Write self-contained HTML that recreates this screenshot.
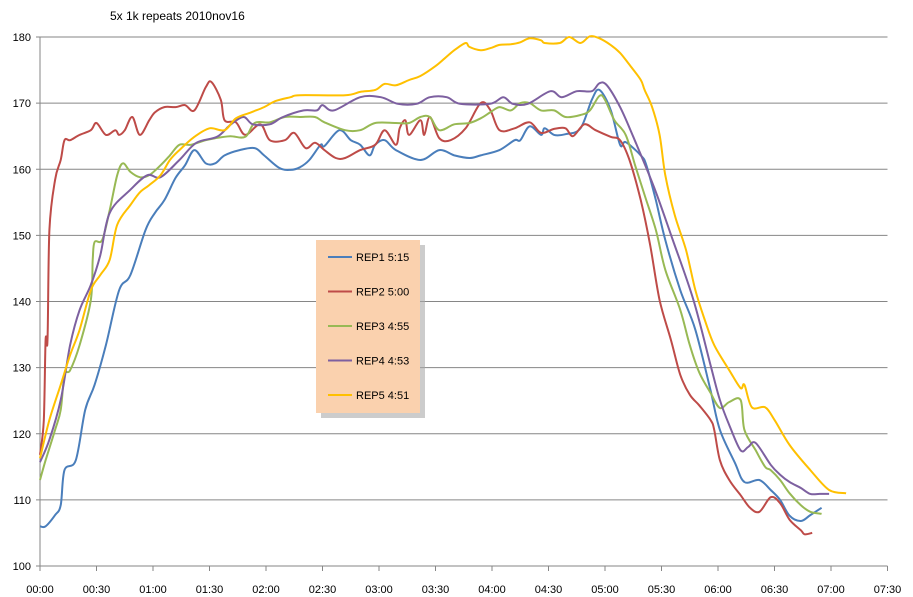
<!DOCTYPE html>
<html><head><meta charset="utf-8"><style>
body{margin:0;background:#fff;}
svg{display:block;font-family:"Liberation Sans",sans-serif;}
</style></head><body>
<svg id="chart" width="913" height="597">
<text x="110" y="20" font-size="12" fill="#000">5x 1k repeats 2010nov16</text>
<g id="grid"></g><g id="axes"></g><g id="series"></g>
<g>
<rect x="321" y="245" width="104" height="173" fill="#aaa" opacity="0.6"/>
<rect x="316" y="240" width="104" height="173" fill="#FAD1AE"/>
<g id="legend"></g>
</g>
</svg>
<script>
const yTicks=[100,110,120,130,140,150,160,170,180];
const xTickLabels=["00:00","00:30","01:00","01:30","02:00","02:30","03:00","03:30","04:00","04:30","05:00","05:30","06:00","06:30","07:00","07:30"];
const seriesNames=["REP1 5:15","REP2 5:00","REP3 4:55","REP4 4:53","REP5 4:51"];
const seriesColors=["#4A7EBB","#BE4B48","#98B954","#7D60A0","#FFC000"];
const rep1T=[0,3,8,11,13,19,24,29,35,42,48,56,61,66,72,77,82,88,93,98,106,114,119,127,133,138,143,149,151,159,165,170,175,178,183,189,202,212,220,228,234,244,252,255,260,266,268,273,279,287,293,297,303,308,311,319,322,327,332,340,348,356,361,369,374,382,388,393,398,404,409,415];
const rep1V=[106,106,107.7,109.2,114.5,116,123.6,127.4,133.4,141.7,144,150.8,153.4,155.3,158.7,160.6,162.9,160.9,160.9,162.1,162.9,163.2,162.1,160.2,159.9,160.3,161.4,163.7,163.5,165.9,164.4,163.7,162.1,163.7,164.4,162.9,161.4,162.9,162.1,161.7,162.1,162.9,164.4,164.4,166.5,165.2,166.2,165.2,165.3,166.2,170.5,172,169,163.7,164.1,162.1,160.6,155.3,149.3,141.7,135.7,126.6,120.6,115.6,112.7,113,111.5,110,107.6,106.8,107.7,108.8];
const rep2T=[0,2,3,4,5,8,11,13,16,21,27,30,35,40,42,45,49,53,58,61,66,72,77,82,88,91,96,98,104,109,117,122,130,135,141,146,151,157,162,170,178,183,189,191,194,196,202,204,207,212,218,226,234,239,244,252,260,266,273,279,283,289,295,303,308,313,319,324,329,335,340,345,350,356,358,361,366,372,377,382,388,393,398,404,406,410];
const rep2V=[116.8,122,134.2,134.2,150.8,158.4,161.4,164.4,164.4,165.2,165.9,167,165.2,165.9,165.2,165.9,167.9,165.2,167.4,168.6,169.4,169.4,169.7,168.9,172.4,173.2,170.5,167.4,167.1,165.2,166.8,164.4,164.4,165.5,163.2,164,162.9,161.7,161.7,162.9,163.7,165.9,163.7,166.2,167.4,165.2,167.4,165.2,167.9,164.7,164.4,166.2,170,169,165.9,166.2,167.1,165.5,166.1,166.2,165,166.8,165.9,164.9,164.4,161.4,155.3,148.5,140.2,134.2,128.9,125.9,124.3,122.1,120.6,116,113,110.7,108.8,108.2,110.4,109.5,107,105.4,104.8,105];
const rep3T=[0,3,8,11,13,16,21,27,28,29,33,37,41,44,48,53,58,64,69,74,80,88,93,101,109,114,122,130,138,146,151,162,170,178,189,196,202,207,212,220,228,234,239,244,250,255,260,266,273,279,287,292,297,300,305,311,316,321,327,332,340,345,350,356,361,366,372,374,380,385,388,393,398,404,409,415];
const rep3V=[113,116,120.6,123.6,128.9,129.6,133.4,140.2,146.3,149,149.3,153.8,159.1,160.9,159.6,158.8,159.1,160.6,162.1,163.7,163.7,164.4,164.7,165,164.9,167,167.1,167.9,167.9,167.9,167.1,165.9,165.9,167,167,167,167.9,167.9,165.9,166.8,167,167.7,168.6,169.4,168.9,170,170,168.9,168.9,167.9,168.2,168.9,171.1,170.5,167.4,165.2,160.6,156.1,150.8,144.8,138.7,133.4,129.3,126.2,123.9,124.8,125.1,120.6,117.5,115,114.5,113,111,109.2,108.2,107.9];
const rep4T=[0,5,11,16,21,27,32,37,48,57,64,74,83,94,101,108,113,122,129,140,147,150,156,170,181,190,200,207,216,223,239,246,251,259,271,277,285,293,297,301,308,315,326,336,347,356,361,366,372,376,380,388,393,398,404,409,414,419];
const rep4V=[115.7,119.1,125.1,133.4,138.7,142.5,147,153.4,156.9,159.1,158.8,161.4,164,164.9,166.7,167.9,166.8,166.8,167.9,168.9,168.9,169.7,168.9,170.9,170.9,169.9,169.9,170.9,170.9,169.9,169.9,170.9,169.9,169.9,171.8,170.9,171.8,171.8,173,172.7,169.4,164.9,157.3,149.3,140.2,130.4,125.1,121.3,117.5,118,118.6,115.3,113.8,112.7,111.8,110.9,110.9,110.9];
const rep5T=[0,5,11,16,21,27,32,37,41,48,53,58,64,69,74,82,90,98,104,112,119,125,133,138,162,170,178,183,189,196,202,210,215,220,226,228,234,239,244,250,255,260,266,268,276,281,287,292,297,303,308,313,319,321,325,329,332,337,343,348,353,358,366,372,374,378,385,390,398,409,419,428];
const rep5V=[116.3,122.1,127.4,131.9,135.7,141.7,144,146.3,151.6,154.6,156.5,157.6,159.1,161.4,162.9,164.9,166.2,165.9,167.7,168.6,169.4,170.3,170.9,171.2,171.2,171.7,172,172.9,172.7,173.5,174.1,175.6,176.8,178,179.1,178.5,178,178.3,178.8,178.9,179.2,179.8,179.5,179.1,179.1,180,179.1,180.1,179.8,178.8,177.6,175.8,173.5,172,169.4,165.2,159.1,153.1,147.8,141.7,137.2,133.4,129.6,126.9,127.4,124,124,122.1,118.3,114.5,111.5,111];
const allT=[rep1T,rep2T,rep3T,rep4T,rep5T];
const allV=[rep1V,rep2V,rep3V,rep4V,rep5V];

const X0=40,X1=887.5,Y0=566,Y1=37;
const xMax=450; // 07:30 in seconds
const sx=t=>X0+t/xMax*(X1-X0);
const sy=v=>Y0-(v-100)/80*(Y0-Y1);
const NS="http://www.w3.org/2000/svg";
function mk(tag,attrs,parent){const e=document.createElementNS(NS,tag);for(const k in attrs)e.setAttribute(k,attrs[k]);parent.appendChild(e);return e;}
const grid=document.getElementById('grid'),axes=document.getElementById('axes'),ser=document.getElementById('series'),leg=document.getElementById('legend');
yTicks.forEach(v=>{
  const l=mk('line',{x1:X0,x2:X1,y1:sy(v),y2:sy(v),stroke:'#868686','stroke-width':1},grid);
  
  
  const t=mk('text',{x:31,y:sy(v)+4,'font-size':11,'text-anchor':'end',fill:'#000'},axes);
  t.textContent=v;
  
  
  const tk=mk('line',{x1:X0-4,x2:X0,y1:sy(v),y2:sy(v),stroke:'#868686'},axes);
  
  
});
const ya=mk('line',{x1:X0,x2:X0,y1:Y1,y2:Y0+4,stroke:'#868686'},axes);


xTickLabels.forEach((lab,i)=>{
  const x=sx(i*30);
  const tk=mk('line',{x1:x,x2:x,y1:Y0,y2:Y0+5,stroke:'#868686'},axes);
  
  
  const t=mk('text',{x:x,y:593,'font-size':11,'text-anchor':'middle',fill:'#000'},axes);
  t.textContent=lab;
  
  
});
function smooth(pts){
  let d='M'+pts[0][0].toFixed(1)+','+pts[0][1].toFixed(1);
  for(let i=0;i<pts.length-1;i++){
    const p0=pts[i-1]||pts[i],p1=pts[i],p2=pts[i+1],p3=pts[i+2]||p2;
    const c1=[p1[0]+(p2[0]-p0[0])/6,p1[1]+(p2[1]-p0[1])/6];
    const c2=[p2[0]-(p3[0]-p1[0])/6,p2[1]-(p3[1]-p1[1])/6];
    d+=' C'+c1[0].toFixed(1)+','+c1[1].toFixed(1)+' '+c2[0].toFixed(1)+','+c2[1].toFixed(1)+' '+p2[0].toFixed(1)+','+p2[1].toFixed(1);
  }
  return d;
}
allT.forEach((ts,s)=>{
  const pts=ts.map((t,i)=>[sx(t),sy(allV[s][i])]);
  const p=mk('path',{d:smooth(pts),fill:'none',stroke:seriesColors[s],'stroke-width':2,'stroke-linejoin':'round'},ser);
  
  
  const y=257+s*34.5;
  const g=mk('g',{},leg);
  
  
  mk('line',{x1:328,x2:352,y1:y,y2:y,stroke:seriesColors[s],'stroke-width':2},g);
  const t=mk('text',{x:356,y:y+4,'font-size':11,fill:'#000'},g);
  t.textContent=seriesNames[s];
});
</script>
</body></html>
